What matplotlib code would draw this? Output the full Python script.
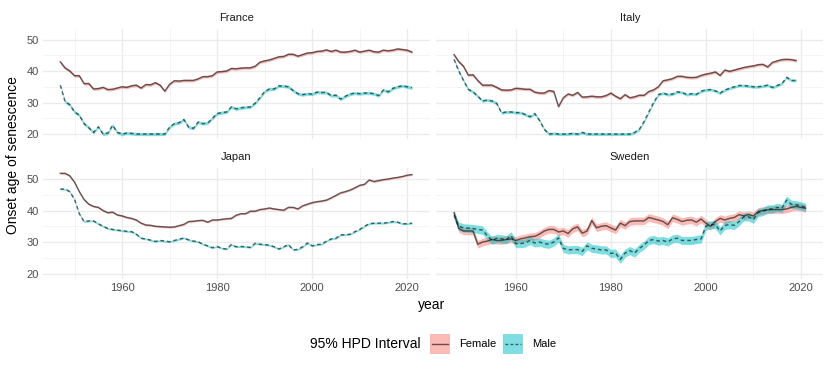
import numpy as np
import matplotlib
matplotlib.use("Agg")
import matplotlib.pyplot as plt
from matplotlib.patches import Rectangle
from matplotlib.lines import Line2D

years_full = list(range(1947, 2022))
years_italy = list(range(1947, 2020))

france_f = [42.9, 41.0, 40.0, 38.5, 38.5, 36.0, 36.0, 34.3, 34.4, 34.8, 34.1, 34.2, 34.6, 35.0,
            34.8, 35.3, 35.5, 34.6, 35.7, 35.6, 36.3, 35.5, 33.6, 35.8, 36.9, 36.8, 37.0, 37.0,
            37.0, 37.5, 38.2, 38.2, 38.5, 39.7, 39.8, 40.0, 40.8, 40.7, 40.9, 41.0, 41.0, 41.5,
            42.8, 43.2, 43.5, 44.0, 44.5, 44.6, 45.3, 45.3, 44.7, 45.2, 45.7, 45.8, 46.2, 46.3,
            46.7, 46.2, 46.6, 46.0, 46.0, 46.2, 46.6, 46.0, 46.3, 46.6, 46.1, 46.0, 46.6, 46.4,
            46.6, 47.0, 46.8, 46.6, 46.0]
france_m = [35.5, 30.3, 29.3, 27.0, 26.0, 23.3, 22.0, 20.5, 22.3, 20.0, 20.3, 22.8, 20.5, 20.0,
            20.3, 20.2, 20.0, 20.0, 20.0, 20.0, 20.0, 20.0, 20.0, 22.2, 23.3, 23.6, 24.6, 22.2,
            21.8, 23.8, 23.3, 23.5, 25.0, 26.5, 26.8, 27.0, 28.6, 28.0, 28.3, 28.5, 28.6, 29.8,
            31.5, 33.5, 34.3, 34.3, 35.3, 35.2, 35.0, 33.8, 32.8, 32.5, 32.8, 32.7, 33.3, 33.2,
            33.2, 32.2, 32.3, 31.1, 32.0, 32.7, 33.0, 32.8, 33.0, 33.0, 32.8, 32.2, 34.0, 33.4,
            34.5, 35.0, 35.3, 35.0, 34.7]

italy_f = [45.2, 43.0, 41.5, 38.7, 38.8, 37.0, 35.5, 35.5, 35.5, 34.8, 34.0, 33.9, 34.0, 34.5,
           34.4, 34.2, 34.2, 33.3, 33.0, 33.0, 33.8, 33.5, 28.7, 31.5, 32.7, 32.3, 33.2, 31.7,
           31.8, 32.0, 31.8, 31.8, 32.2, 33.0, 32.0, 31.2, 32.5, 31.5, 31.8, 32.3, 32.3, 33.5,
           34.0, 35.0, 36.9, 37.2, 37.6, 38.3, 38.3, 38.0, 37.9, 38.0, 38.6, 39.0, 39.3, 39.7,
           38.6, 40.3, 39.9, 40.3, 40.7, 41.1, 41.4, 41.6, 42.0, 42.1, 41.3, 42.7, 43.2, 43.6,
           43.7, 43.6, 43.3]
italy_m = [43.7, 40.0, 37.0, 34.2, 33.4, 32.0, 30.5, 30.8, 30.5, 29.7, 26.7, 27.0, 27.0, 26.8,
           26.8, 26.2, 25.5, 26.5, 24.3, 21.5, 20.0, 20.2, 20.0, 20.0, 20.0, 20.2, 20.0, 20.5,
           20.0, 20.0, 20.0, 20.0, 20.0, 20.0, 20.0, 20.0, 20.0, 20.0, 20.5, 21.5, 24.0, 27.0,
           30.0, 32.5, 33.0, 32.5, 32.7, 33.4, 33.2, 32.5, 32.8, 32.6, 33.6, 34.0, 34.1, 33.7,
           33.0, 34.0, 34.5, 35.0, 35.4, 35.4, 35.2, 35.0, 35.0, 35.2, 35.5, 34.8, 35.4, 36.0,
           38.0, 37.0, 37.0]

japan_f = [51.8, 51.8, 51.0, 49.0, 46.0, 43.5, 42.0, 41.3, 41.0, 40.0, 39.3, 39.5, 38.6, 38.3,
           37.8, 37.5, 37.0, 36.0, 35.4, 35.3, 35.0, 34.9, 34.8, 34.7, 34.8, 35.2, 35.6, 36.5,
           36.6, 36.8, 36.9, 36.3, 37.0, 37.0, 37.2, 37.4, 37.5, 38.5, 39.0, 39.0, 39.8, 39.8,
           40.3, 40.5, 40.8, 40.5, 40.3, 40.1, 41.0, 41.0, 40.5, 41.5, 42.0, 42.5, 42.8, 43.0,
           43.3, 44.0, 44.8, 45.6, 46.0, 46.5, 47.2, 48.0, 48.3, 49.7, 49.2, 49.5, 49.8, 50.0,
           50.3, 50.5, 50.8, 51.2, 51.4]
japan_m = [46.8, 46.8, 46.0, 43.5, 39.0, 36.5, 36.7, 36.7, 35.8, 35.0, 34.3, 34.0, 33.8, 33.6,
           33.4, 33.3, 32.5, 31.2, 31.0, 30.6, 30.2, 30.5, 30.3, 30.1, 30.5, 30.9, 31.3, 30.7,
           30.3, 30.1, 29.3, 28.8, 28.2, 28.6, 28.0, 27.8, 29.2, 28.5, 28.6, 28.5, 28.3, 29.6,
           29.3, 29.2, 29.0, 28.5, 27.8, 28.5, 29.2, 27.5, 27.7, 28.5, 29.7, 28.8, 29.2, 29.3,
           30.3, 31.0, 31.2, 32.3, 32.3, 32.5, 33.3, 34.0, 35.0, 35.8, 36.0, 36.0, 36.0, 36.2,
           36.5, 36.3, 35.8, 35.8, 36.0]

sweden_f = [39.3, 34.3, 33.5, 33.5, 33.5, 29.3, 30.0, 30.3, 30.8, 30.5, 30.5, 30.8, 31.0, 30.5,
            31.0, 31.3, 31.7, 31.8, 32.5, 33.5, 34.0, 34.0, 33.2, 33.5, 32.7, 34.2, 34.8, 32.8,
            33.5, 36.8, 34.5, 35.0, 35.2, 34.5, 33.8, 36.0, 35.2, 36.5, 36.7, 36.7, 36.7, 37.8,
            37.4, 37.0, 36.5, 35.5, 37.7, 37.2, 36.5, 36.9, 37.0, 36.3, 37.3, 36.0, 35.0, 36.5,
            37.5, 37.0, 37.5, 37.8, 38.7, 38.3, 38.7, 38.3, 39.7, 40.0, 40.2, 40.3, 40.3, 40.3,
            40.5, 41.0, 41.3, 41.0, 40.7]
sweden_m = [38.5, 35.0, 34.5, 34.4, 34.3, 34.0, 33.8, 32.0, 30.5, 31.2, 31.0, 30.7, 32.0, 29.5,
            29.5, 29.7, 30.5, 29.7, 30.0, 29.5, 29.3, 30.0, 31.3, 28.0, 27.5, 27.6, 27.6, 27.0,
            28.8, 28.0, 27.8, 27.5, 27.5, 26.4, 26.5, 24.5, 26.5, 27.3, 26.5, 28.0, 29.0, 30.5,
            30.8, 30.3, 30.5, 30.0, 31.0, 31.2, 30.5, 30.5, 30.5, 30.8, 31.0, 35.0, 35.5, 35.5,
            33.5, 35.3, 35.5, 35.3, 36.5, 38.0, 38.0, 37.2, 39.3, 39.7, 40.5, 40.5, 41.0, 40.7,
            43.3, 42.0, 41.8, 41.5, 41.0]

# HPD interval half-widths (years of age)
band_f = {"France": 0.45, "Italy": 0.45, "Japan": 0.3, "Sweden": 1.2}
band_m = {"France": 0.5, "Italy": 0.45, "Japan": 0.3, "Sweden": 1.3}

countries = ["France", "Italy", "Japan", "Sweden"]
series = {
    "France": (years_full, france_f, france_m),
    "Italy": (years_italy, italy_f, italy_m),
    "Japan": (years_full, japan_f, japan_m),
    "Sweden": (years_full, sweden_f, sweden_m),
}
x_ticks = [1960, 1980, 2000, 2020]
y_ticks = [20, 30, 40, 50]

FEMALE = "#F8766D"
MALE = "#00BFC4"
W, H = 830, 369
plt.rcParams["font.family"] = ["Liberation Sans", "DejaVu Sans"]
fig = plt.figure(figsize=(W / 100, H / 100), dpi=100)

def px_rect(x0, y0, x1, y1):
    return [x0 / W, 1 - y1 / H, (x1 - x0) / W, (y1 - y0) / H]

panels = {
    "France": (42.7, 28.8, 429.5, 139.4),
    "Italy": (436.4, 28.8, 823.2, 139.4),
    "Japan": (42.7, 168.3, 429.5, 278.9),
    "Sweden": (436.4, 168.3, 823.2, 278.9),
}

for i, c in enumerate(countries):
    ax = fig.add_axes(px_rect(*panels[c]))
    yrs, f, m = series[c]
    yrs = np.array(yrs); f = np.array(f); m = np.array(m)
    ax.set_xlim(1943.3, 2024.7)
    ax.set_ylim(18.3, 53.4)
    for s in ax.spines.values():
        s.set_visible(False)
    ax.set_xticks(x_ticks)
    ax.set_xticks([1950, 1970, 1990, 2010], minor=True)
    ax.set_yticks(y_ticks)
    ax.set_yticks([25, 35, 45], minor=True)
    ax.grid(True, which="major", color="#EBEBEB", lw=1.0)
    ax.grid(True, which="minor", color="#F2F2F2", lw=0.6)
    ax.set_axisbelow(True)
    ax.tick_params(which="both", length=0, labelsize=8, labelcolor="#4D4D4D", pad=3)
    if i % 2 == 1:
        ax.tick_params(labelleft=False)
    if i < 2:
        ax.tick_params(labelbottom=False)
    ax.fill_between(yrs, f - band_f[c], f + band_f[c], color=FEMALE, alpha=0.5, lw=0)
    ax.fill_between(yrs, m - band_m[c], m + band_m[c], color=MALE, alpha=0.5, lw=0)
    ax.plot(yrs, f, color="black", alpha=0.58, lw=1.05, ls="-")
    ax.plot(yrs, m, color="black", alpha=0.58, lw=1.05, ls=(0, (2.5, 2.0)))
    x0, y0, x1, y1 = panels[c]
    fig.text(((x0 + x1) / 2) / W, 1 - (y0 - 11) / H, c, ha="center", va="center",
             fontsize=8, color="#1A1A1A")

fig.text(13 / W, 1 - 155 / H, "Onset age of senescence", rotation=90, ha="center",
         va="center", fontsize=10, color="black")
fig.text(432 / W, 1 - 305 / H, "year", ha="center", va="center", fontsize=10, color="black")

# legend
ly = 344
fig.text(310 / W, 1 - ly / H, "95% HPD Interval", ha="left", va="center", fontsize=10)
for kx, col, lab, ls in [(430, FEMALE, "Female", "-"), (503, MALE, "Male", (0, (2.0, 1.6)))]:
    fig.add_artist(Rectangle((kx / W, 1 - (ly + 10) / H), 20 / W, 20 / H,
                             transform=fig.transFigure, facecolor=col, alpha=0.5, lw=0))
    fig.add_artist(Line2D([(kx + 2) / W, (kx + 18) / W], [1 - ly / H, 1 - ly / H],
                          transform=fig.transFigure, color="black", alpha=0.58, lw=1.0, ls=ls))
    fig.text((kx + 29) / W, 1 - ly / H, lab, ha="left", va="center", fontsize=8)

fig.savefig("out.png", dpi=100, facecolor="white")
